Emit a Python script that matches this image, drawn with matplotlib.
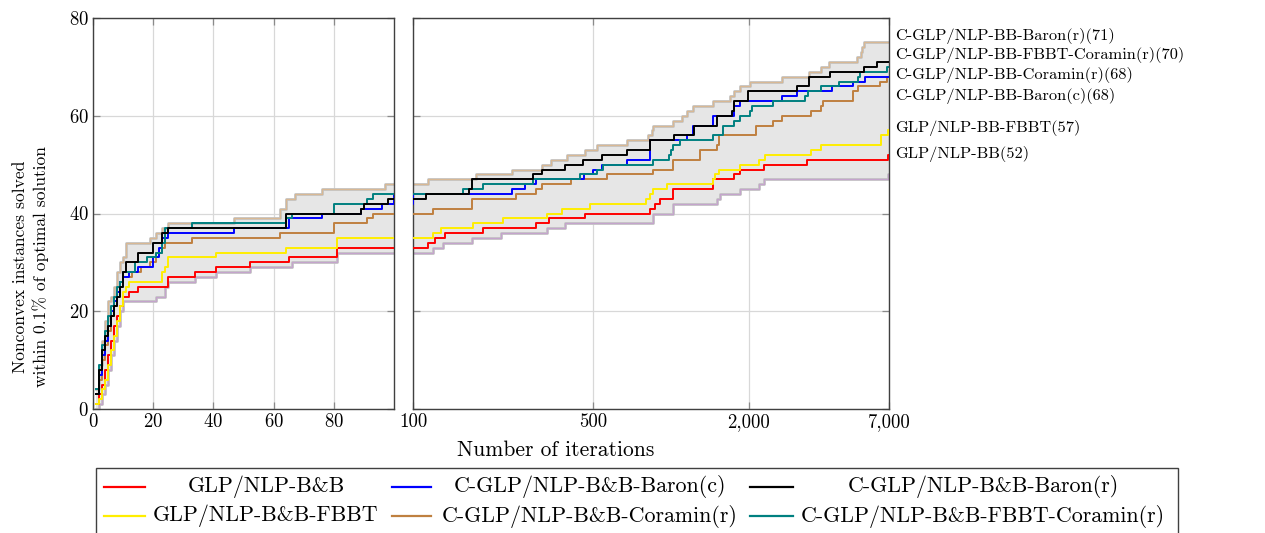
import numpy as np
import matplotlib
matplotlib.use("Agg")
import matplotlib.pyplot as plt
from matplotlib.patches import Rectangle
from matplotlib.lines import Line2D
import matplotlib.transforms as mtransforms

plt.rcParams['font.family'] = ['cmr10', 'DejaVu Serif']
plt.rcParams['mathtext.fontset'] = 'cm'
plt.rcParams['axes.formatter.use_mathtext'] = True

# ---------------- data (iteration at which the count steps up, count) ----------------
red_iter = [1, 2, 3, 4, 5, 6, 7, 8, 9, 10, 12, 15, 25, 34, 41, 52, 65, 81,
            100, 114, 122, 133, 187, 301, 337, 465, 830, 867, 906, 1020, 1458, 1748, 1855, 2291, 3375, 6950]
red_val = [1, 3, 5, 8, 11, 14, 17, 19, 21, 23, 24, 25, 27, 28, 29, 30, 31, 33,
           33, 34, 35, 36, 37, 38, 39, 40, 41, 42, 43, 45, 47, 48, 49, 50, 51, 52]

yellow_iter = [1, 2, 3, 4, 5, 6, 7, 8, 9, 10, 11, 12, 23, 24, 25, 41, 64, 81,
               100, 120, 128, 171, 223, 330, 377, 485, 800, 830, 855, 962, 1458, 1480, 1530, 1855, 2188, 2322, 3474, 3800, 6500, 6950]
yellow_val = [1, 2, 4, 6, 9, 12, 15, 18, 21, 24, 25, 26, 28, 29, 31, 32, 33, 35,
              35, 36, 37, 38, 39, 40, 41, 42, 43, 44, 45, 46, 47, 48, 49, 50, 51, 52, 53, 54, 56, 57]

blue_iter = [1, 2, 3, 4, 5, 6, 7, 8, 9, 10, 12, 15, 20, 22, 23, 25, 47, 65, 76, 89, 96,
             100, 241, 272, 301, 460, 500, 540, 674, 830, 1149, 1219, 1458, 1748, 1855, 2693, 3083, 4215, 5060, 5670]
blue_val = [3, 7, 11, 14, 17, 20, 22, 24, 26, 27, 28, 29, 31, 33, 35, 36, 37, 39, 40, 41, 42,
            44, 45, 46, 47, 48, 49, 50, 51, 55, 56, 58, 60, 62, 63, 64, 65, 66, 67, 68]

black_iter = [1, 2, 3, 4, 5, 6, 7, 8, 9, 10, 11, 15, 20, 23, 25, 64, 89, 90, 98,
              100, 112, 165, 170, 292, 315, 388, 458, 538, 674, 830, 1024, 1223, 1507, 1720, 1750, 1996, 3083, 3423, 4152, 5592, 6303]
black_val = [3, 8, 12, 15, 17, 19, 21, 23, 25, 28, 30, 32, 34, 36, 37, 40, 41, 42, 43,
             43, 44, 45, 47, 48, 49, 50, 51, 52, 53, 55, 56, 58, 60, 61, 63, 65, 66, 68, 69, 70, 71]

brown_iter = [1, 2, 3, 4, 5, 6, 7, 8, 9, 10, 13, 16, 19, 21, 23, 24, 33, 62, 80, 91, 93,
              100, 120, 170, 250, 300, 315, 410, 563, 855, 1020, 1294, 1502, 1530, 2142, 2493, 2698, 3474, 3800, 3900, 5060, 5300, 6480, 6900]
brown_val = [3, 6, 10, 13, 16, 19, 21, 24, 26, 27, 28, 29, 30, 32, 33, 34, 35, 36, 38, 39, 40,
             40, 41, 43, 44, 45, 46, 47, 48, 49, 51, 53, 54, 56, 58, 59, 60, 61, 62, 63, 65, 66, 67, 68]

teal_iter = [1, 2, 3, 4, 5, 6, 7, 8, 9, 10, 14, 18, 21, 23, 24, 33, 64, 66, 80, 91, 93,
             100, 156, 187, 292, 443, 515, 547, 855, 980, 1000, 1020, 1083, 1458, 1594, 1748, 1855, 2028, 2060, 2493, 3320, 3400, 3800, 4500, 5300, 5400, 6900]
teal_val = [4, 9, 13, 16, 19, 21, 23, 25, 26, 28, 30, 31, 32, 34, 37, 38, 39, 40, 42, 43, 44,
            44, 45, 46, 47, 48, 49, 50, 51, 52, 53, 54, 55, 56, 58, 59, 60, 61, 62, 63, 64, 65, 66, 67, 68, 69, 70]

best_iter = [1, 2, 3, 4, 5, 6, 7, 8, 9, 10, 11, 19, 21, 23, 25, 47, 62, 64, 67, 76, 97,
             100, 114, 176, 241, 315, 344, 394, 464, 515, 674, 818, 843, 855, 1020, 1100, 1149, 1219, 1458, 1692, 1748, 1855, 2028, 2693, 3423, 3800, 4100, 5250, 5450, 5500, 5600]
best_val = [4, 9, 14, 18, 22, 23, 25, 28, 30, 31, 34, 35, 36, 37, 38, 39, 41, 43, 44, 45, 46,
            46, 47, 48, 49, 50, 51, 52, 53, 54, 55, 56, 57, 58, 59, 60, 61, 62, 63, 64, 65, 66, 67, 68, 69, 70, 71, 72, 73, 74, 75]

worst_iter = [1, 2, 3, 4, 5, 6, 7, 8, 9, 10, 21, 24, 25, 34, 41, 52, 66, 81,
              100, 120, 131, 170, 220, 330, 388, 855, 1020, 1502, 1550, 1855, 2188, 2291, 6950]
worst_val = [0, 1, 3, 5, 8, 11, 14, 17, 20, 22, 23, 25, 26, 27, 28, 29, 30, 32,
             32, 33, 34, 35, 36, 37, 38, 40, 42, 43, 44, 45, 46, 47, 48]

legend_labels = ['GLP/NLP-B&B', 'C-GLP/NLP-B&B-Baron(c)', 'C-GLP/NLP-B&B-Baron(r)',
                 'GLP/NLP-B&B-FBBT', 'C-GLP/NLP-B&B-Coramin(r)', 'C-GLP/NLP-B&B-FBBT-Coramin(r)']
end_labels = ['C-GLP/NLP-BB-Baron(r)(71)', 'C-GLP/NLP-BB-FBBT-Coramin(r)(70)',
              'C-GLP/NLP-BB-Coramin(r)(68)', 'C-GLP/NLP-BB-Baron(c)(68)',
              'GLP/NLP-BB-FBBT(57)', 'GLP/NLP-BB(52)']
left_xticks = [0, 20, 40, 60, 80]
right_xticks = [100, 500, 2000, 7000]
right_xticklabels = ['100', '500', '2,000', '7,000']
yticks = [0, 20, 40, 60, 80]

# ---------------- style ----------------
C_RED, C_YEL, C_BLUE, C_BLACK = '#ff0000', '#ffee00', '#0000ff', '#000000'
C_BROWN, C_TEAL = '#bf8040', '#008080'
series = [
    (red_iter, red_val, C_RED),
    (yellow_iter, yellow_val, C_YEL),
    (brown_iter, brown_val, C_BROWN),
    (blue_iter, blue_val, C_BLUE),
    (teal_iter, teal_val, C_TEAL),
    (black_iter, black_val, C_BLACK),
]
legend_colors = [C_RED, C_BLUE, C_BLACK, C_YEL, C_BROWN, C_TEAL]
end_label_y = [76.3, 72.4, 68.3, 64.0, 57.5, 52.1]

W, H = 1265, 533
fig = plt.figure(figsize=(W / 100, H / 100), dpi=100)

def px_axes(x0, x1, y0, y1):
    return fig.add_axes([x0 / W, 1 - y1 / H, (x1 - x0) / W, (y1 - y0) / H])

axL = px_axes(93, 394, 18, 409)
axR = px_axes(413, 889, 18, 409)

XMAX = 7000

def ext(it, v):
    return list(it) + [XMAX], list(v) + [v[-1]]

def step_eval(it, v, x):
    it = np.asarray(it); v = np.asarray(v)
    idx = np.searchsorted(it, x, side='right') - 1
    return np.where(idx >= 0, v[np.clip(idx, 0, None)], v[0])

grid_x = np.unique(np.concatenate([best_iter, worst_iter, [XMAX]])).astype(float)
upper = step_eval(best_iter, best_val, grid_x)
lower = step_eval(worst_iter, worst_val, grid_x)

for ax in (axL, axR):
    ax.fill_between(grid_x, lower, upper, step='post', color='#e6e6e6', lw=0, zorder=1)
    bx, bv = ext(best_iter, best_val)
    wx, wv = ext(worst_iter, worst_val)
    ax.plot(bx, bv, drawstyle='steps-post', color='#c4c4c4', lw=2.0, zorder=2)
    ax.plot(bx, bv, drawstyle='steps-post', color='#d8b894', lw=0.9, zorder=2)
    ax.plot(wx, wv, drawstyle='steps-post', color='#c4c4c4', lw=2.0, zorder=2)
    ax.plot(wx, wv, drawstyle='steps-post', color='#c4a4cc', lw=0.9, zorder=2)
    for it, v, c in series:
        xx, vv = ext(it, v)
        ax.plot(xx, vv, drawstyle='steps-post', color=c, lw=1.4, zorder=3)
    ax.set_ylim(0, 80)
    ax.set_yticks(yticks)
    ax.grid(True, color='#d8d8d8', lw=0.9, zorder=0)
    ax.set_axisbelow(True)
    for s in ax.spines.values():
        s.set_color('#404040'); s.set_linewidth(1.0)
    ax.tick_params(direction='in', length=5, color='#8a8a8a', width=0.9,
                   top=True, right=True, labelsize=13.5, pad=3)

axL.set_xlim(0, 100)
axL.set_xticks(left_xticks)
axR.set_xscale('log')
axR.set_xlim(100, 7000)
axR.set_xticks(right_xticks)
axR.set_xticklabels(right_xticklabels)
axR.xaxis.set_minor_locator(matplotlib.ticker.NullLocator())
axR.tick_params(labelleft=False)

# end-of-line labels
trans = mtransforms.blended_transform_factory(axR.transAxes, axR.transData)
for lab, yv in zip(end_labels, end_label_y):
    axR.text(1 + 6 / 476, yv, lab, transform=trans, ha='left', va='center',
             fontsize=11.8, clip_on=False)

# axis labels
fig.text(556 / W, 1 - 450 / H, 'Number of iterations', ha='center', va='center', fontsize=15.5)
fig.text(31 / W, 1 - 267 / H, 'Nonconvex instances solved\nwithin 0.1% of optimal solution',
         ha='center', va='center', rotation=90, fontsize=12.6, linespacing=1.3)

# legend box (manual, pgfplots-like centered entries)
fig.patches.append(Rectangle((96 / W, 1 - 545 / H), (1178 - 96) / W, (545 - 468) / H,
                             transform=fig.transFigure, fill=False, ec='#404040', lw=1.0,
                             clip_on=False))
col_handles = [(104, 145), (392, 431), (750, 793)]
col_text_x = [266, 590, 983]
row_y = [487, 516]
for i, (lab, c) in enumerate(zip(legend_labels, legend_colors)):
    r, k = divmod(i, 3)
    hx0, hx1 = col_handles[k]
    y = 1 - row_y[r] / H
    fig.lines.append(Line2D([hx0 / W, hx1 / W], [y, y], transform=fig.transFigure,
                            color=c, lw=1.6))
    fig.text(col_text_x[k] / W, y, lab, ha='center', va='center', fontsize=15.8)

fig.savefig('out.png', dpi=100)
